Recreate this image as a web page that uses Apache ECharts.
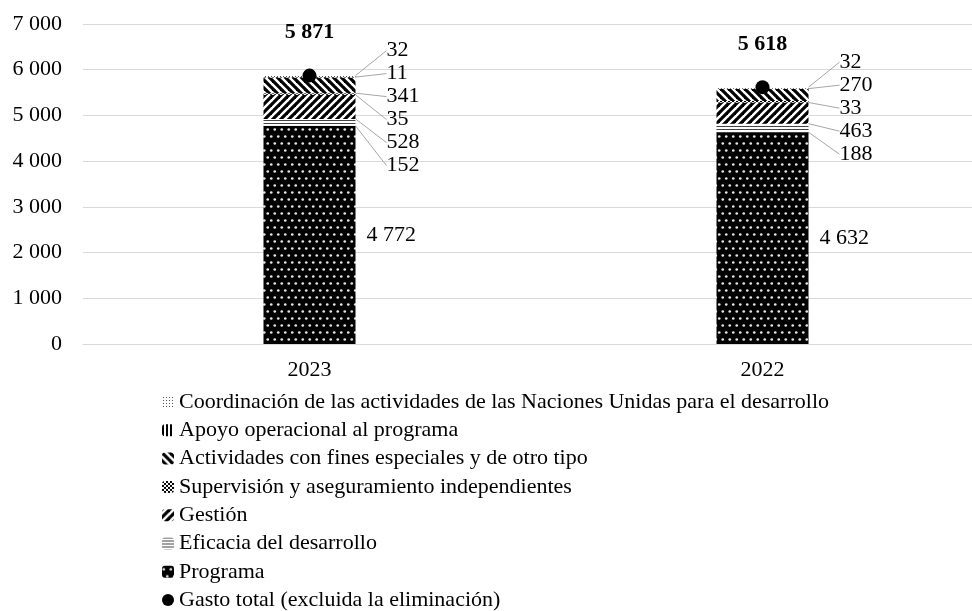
<!DOCTYPE html>
<html>
<head>
<meta charset="utf-8">
<script src="https://cdn.jsdelivr.net/npm/echarts@6/dist/echarts.min.js"></script>
<style>
  html, body { margin: 0; padding: 0; background: #fff; }
  #chart { width: 972px; height: 611px; }
</style>
</head>
<body>
<div id="chart"></div>
<script>
// datos
const years = ['2023', '2022'];
const programa = [4772, 4632];
const eficacia = [152, 188];
const gestion = [528, 463];
const supervision = [35, 33];
const actividades = [341, 270];
const apoyo = [11, null];
const coordinacion = [32, 32];
const gastoTotal = [5871, 5618];
const yTicks = [0, 1000, 2000, 3000, 4000, 5000, 6000, 7000];

const FONT = '"Liberation Serif", "Times New Roman", serif';
const FS = 22;

function fmt(v) {
  return String(v).replace(/\B(?=(\d{3})+(?!\d))/g, ' ');
}

// tramas (patrones de relleno)
function tile(w, h, draw) {
  const c = document.createElement('canvas');
  c.width = w; c.height = h;
  const g = c.getContext('2d');
  draw(g, w, h);
  return { image: c, repeat: 'repeat' };
}

const patProgram = tile(7, 14, (g) => {
  g.fillStyle = '#000'; g.fillRect(0, 0, 7, 14);
  g.fillStyle = '#e6e6e6';
  g.beginPath(); g.arc(1.75, 3.5, 1.35, 0, Math.PI * 2); g.fill();
  g.beginPath(); g.arc(5.25, 10.5, 1.35, 0, Math.PI * 2); g.fill();
});
const patEficacia = tile(2, 3, (g) => {
  g.fillStyle = '#fff'; g.fillRect(0, 0, 2, 3);
  g.fillStyle = '#444'; g.fillRect(0, 0, 2, 1);
});
function diag(up) {
  return tile(8, 8, (g) => {
    g.fillStyle = '#fff'; g.fillRect(0, 0, 8, 8);
    g.strokeStyle = '#000'; g.lineWidth = 3.2;
    const segs = up
      ? [[-4, 4, 4, -4], [0, 8, 8, 0], [4, 12, 12, 4]]
      : [[-4, 4, 4, 12], [0, 0, 8, 8], [4, -4, 12, 4]];
    segs.forEach(s => { g.beginPath(); g.moveTo(s[0], s[1]); g.lineTo(s[2], s[3]); g.stroke(); });
  });
}
const patGestion = diag(true);
const patActividades = diag(false);
const patSupervision = tile(4, 4, (g) => {
  g.fillStyle = '#fff'; g.fillRect(0, 0, 4, 4);
  g.fillStyle = '#000'; g.fillRect(0, 0, 2, 2); g.fillRect(2, 2, 2, 2);
});
const patApoyo = tile(4, 1, (g) => {
  g.fillStyle = '#fff'; g.fillRect(0, 0, 4, 1);
  g.fillStyle = '#000'; g.fillRect(0, 0, 2, 1);
});
const patCoord = tile(3, 3, (g) => {
  g.fillStyle = '#fff'; g.fillRect(0, 0, 3, 3);
  g.fillStyle = '#555'; g.fillRect(1, 1, 1, 1);
});

const chart = echarts.init(document.getElementById('chart'));

// orden de las etiquetas de arriba hacia abajo (índices de serie)
const labelOrder = [6, 5, 4, 3, 2, 1];
const stackData = [programa, eficacia, gestion, supervision, actividades, apoyo, coordinacion];

function sideLabelLayout(params) {
  const d = params.dataIndex;
  const visible = labelOrder.filter(s => stackData[s][d] != null);
  const i = visible.indexOf(params.seriesIndex);
  let topY;
  try {
    topY = chart.convertToPixel({ xAxisIndex: 0, yAxisIndex: 0 }, [d, gastoTotal[d]])[1];
  } catch (e) {
    topY = params.rect.y;
  }
  const r = params.rect;
  const right = r.x + r.width;
  const ly = topY - 25 + i * 23;
  return {
    x: right + 31,
    y: ly,
    align: 'left',
    verticalAlign: 'middle',
    labelLinePoints: [[right, r.y + r.height / 2], [right + 10, ly], [right + 24, ly]]
  };
}

function barSeries(name, data, color, withLine) {
  const s = {
    name: name,
    type: 'bar',
    stack: 'total',
    barWidth: 92,
    data: data,
    itemStyle: { color: color },
    label: {
      show: true,
      position: 'right',
      distance: 11,
      color: '#000',
      fontFamily: FONT,
      fontSize: FS,
      formatter: p => fmt(p.value)
    }
  };
  if (withLine) {
    s.labelLine = { show: true, lineStyle: { color: '#a6a6a6', width: 1 } };
    s.labelLayout = sideLabelLayout;
  }
  return s;
}

const option = {
  animation: false,
  grid: { left: 83, top: 24, width: 906, height: 320, outerBoundsMode: 'none', containLabel: false },
  legend: {
    orient: 'vertical',
    left: 162,
    top: 391,
    height: 260,
    padding: 0,
    itemWidth: 12,
    itemHeight: 12,
    itemGap: 6.3,
    textStyle: { fontFamily: FONT, fontSize: FS, color: '#000' },
    data: [
      'Coordinación de las actividades de las Naciones Unidas para el desarrollo',
      'Apoyo operacional al programa',
      'Actividades con fines especiales y de otro tipo',
      'Supervisión y aseguramiento independientes',
      'Gestión',
      'Eficacia del desarrollo',
      'Programa',
      'Gasto total (excluida la eliminación)'
    ]
  },
  xAxis: {
    type: 'category',
    data: years,
    axisLine: { lineStyle: { color: '#d9d9d9', width: 1 } },
    axisTick: { show: false },
    axisLabel: { color: '#000', fontFamily: FONT, fontSize: FS, margin: 15 }
  },
  yAxis: {
    type: 'value',
    min: yTicks[0],
    max: yTicks[yTicks.length - 1],
    interval: 1000,
    axisLine: { show: false },
    axisTick: { show: false },
    splitLine: { lineStyle: { color: '#d9d9d9', width: 1 } },
    axisLabel: { color: '#000', fontFamily: FONT, fontSize: FS, margin: 21, formatter: v => fmt(v) }
  },
  series: [
    barSeries('Programa', programa, patProgram, false),
    barSeries('Eficacia del desarrollo', eficacia, patEficacia, true),
    barSeries('Gestión', gestion, patGestion, true),
    barSeries('Supervisión y aseguramiento independientes', supervision, patSupervision, true),
    barSeries('Actividades con fines especiales y de otro tipo', actividades, patActividades, true),
    barSeries('Apoyo operacional al programa', apoyo, patApoyo, true),
    barSeries('Coordinación de las actividades de las Naciones Unidas para el desarrollo', coordinacion, patCoord, true),
    {
      name: 'Gasto total (excluida la eliminación)',
      type: 'scatter',
      symbol: 'circle',
      symbolSize: 14,
      z: 5,
      data: gastoTotal,
      itemStyle: { color: '#000', opacity: 1 },
      label: {
        show: true,
        position: 'top',
        distance: 25,
        color: '#000',
        fontFamily: FONT,
        fontSize: FS,
        fontWeight: 'bold',
        formatter: p => fmt(p.value)
      }
    }
  ]
};

chart.setOption(option);
</script>
</body>
</html>
